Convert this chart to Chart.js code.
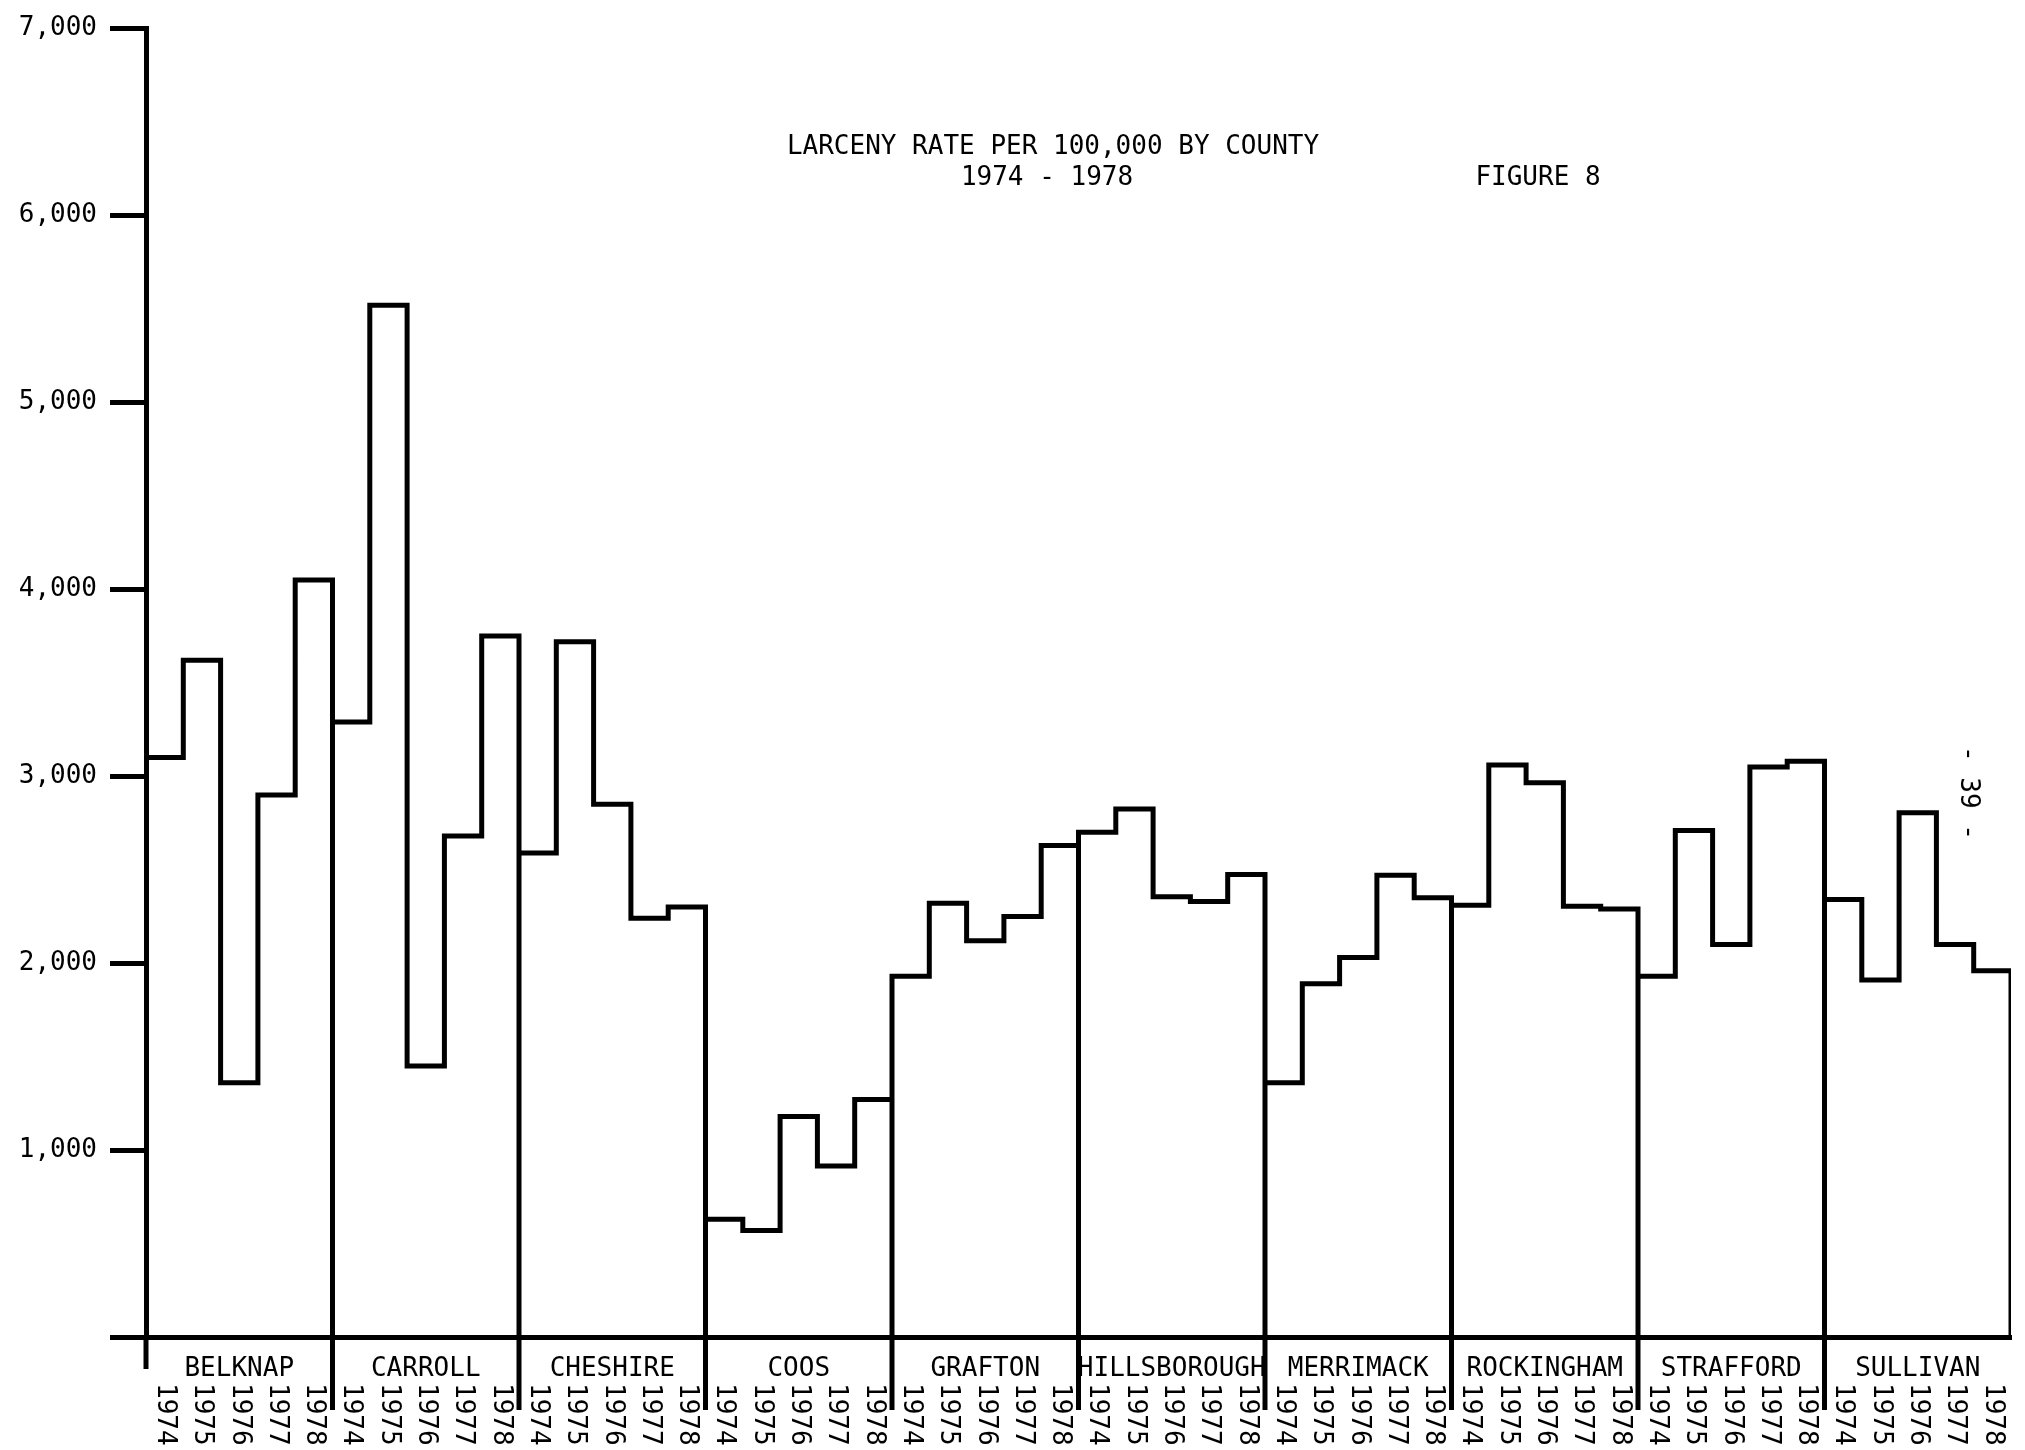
<!DOCTYPE html>
<html>
<head>
<meta charset="utf-8">
<script src="https://cdn.jsdelivr.net/npm/chart.js@4.4.1/dist/chart.umd.min.js"></script>
<style>
  body { margin: 0; background: #fff; }
  #wrap { position: relative; width: 2025px; height: 1450px; }
  .txt { position: absolute; font-family: 'DejaVu Sans Mono', monospace; font-size: 26px; line-height: 26px; color: #000; white-space: pre; }
</style>
</head>
<body>
<div id="wrap">
  <canvas id="chart" width="2025" height="1450"></canvas>
  <div class="txt" style="left:1053px; top:132px; transform:translateX(-50%);">LARCENY RATE PER 100,000 BY COUNTY</div>
  <div class="txt" style="left:1047px; top:163px; transform:translateX(-50%);">1974 - 1978</div>
  <div class="txt" style="left:1538px; top:163px; transform:translateX(-50%);">FIGURE 8</div>
  <div class="txt" style="left:1970px; top:793px; transform:translate(-50%,-50%) rotate(90deg);">- 39 -</div>
</div>
<script>
// larceny rate per 100,000, years 1974..1978 for each county
const counties = ['BELKNAP', 'CARROLL', 'CHESHIRE', 'COOS', 'GRAFTON', 'HILLSBOROUGH', 'MERRIMACK', 'ROCKINGHAM', 'STRAFFORD', 'SULLIVAN'];
const years = ['1974', '1975', '1976', '1977', '1978'];

const belknap      = [3100, 3620, 1360, 2900, 4050];
const carroll      = [3290, 5520, 1450, 2680, 3750];
const cheshire     = [2590, 3720, 2850, 2240, 2300];
const coos         = [630, 570, 1180, 915, 1270];
const grafton      = [1930, 2320, 2120, 2250, 2630];
const hillsborough = [2700, 2825, 2355, 2330, 2475];
const merrimack    = [1360, 1890, 2030, 2470, 2350];
const rockingham   = [2310, 3060, 2965, 2305, 2290];
const strafford    = [1930, 2710, 2100, 3050, 3080];
const sullivan     = [2340, 1910, 2805, 2100, 1960];

const yTicks = [0, 1000, 2000, 3000, 4000, 5000, 6000, 7000];

const rates = [belknap, carroll, cheshire, coos, grafton, hillsborough, merrimack, rockingham, strafford, sullivan];
const n = years.length;

// step outline: each county starts and ends on the axis.
// stepped 'after' goes up at the previous x, then across to this point,
// so a point at the right edge of a year carries that year's value.
const points = [];
rates.forEach((vals, i) => {
  points.push({ x: n * i, y: 0 });
  vals.forEach((v, j) => points.push({ x: n * i + j + 1, y: v }));
  points.push({ x: n * i + n, y: 0 });
});

const FONT = { family: "'DejaVu Sans Mono', monospace", size: 26 };
const LW = 5;

// year labels under each bar + county separators running below the axis
const belowAxis = {
  id: 'belowAxis',
  afterDraw(chart) {
    const ctx = chart.ctx;
    const xs = chart.scales.x;
    const bottom = chart.chartArea.bottom;
    ctx.save();
    ctx.strokeStyle = '#000';
    ctx.lineWidth = LW;
    for (let i = 0; i < counties.length; i++) {
      const px = xs.getPixelForValue(n * i);
      ctx.beginPath();
      ctx.moveTo(px, bottom);
      ctx.lineTo(px, bottom + (i === 0 ? 32 : 73));
      ctx.stroke();
    }
    ctx.fillStyle = '#000';
    ctx.font = `${FONT.size}px ${FONT.family}`;
    ctx.textAlign = 'left';
    ctx.textBaseline = 'middle';
    counties.forEach((c, i) => {
      years.forEach((yr, j) => {
        const px = xs.getPixelForValue(n * i + j + 0.5);
        ctx.save();
        ctx.translate(px, bottom + 46);
        ctx.rotate(Math.PI / 2);
        ctx.fillText(yr, 0, 0);
        ctx.restore();
      });
    });
    ctx.restore();
  }
};

new Chart(document.getElementById('chart'), {
  type: 'line',
  data: {
    datasets: [{
      data: points,
      stepped: 'after',
      borderColor: '#000',
      borderWidth: LW,
      borderCapStyle: 'square',
      borderJoinStyle: 'miter',
      pointRadius: 0,
      fill: false,
      tension: 0
    }]
  },
  options: {
    responsive: false,
    animation: false,
    devicePixelRatio: 1,
    layout: { padding: { left: 0, right: 14, top: 27, bottom: 0 } },
    plugins: { legend: { display: false }, tooltip: { enabled: false }, title: { display: false } },
    scales: {
      x: {
        type: 'linear',
        min: 0,
        max: n * counties.length,
        position: 'bottom',
        weight: 0,
        ticks: { display: false },
        grid: { display: true, drawOnChartArea: false, drawTicks: false },
        border: { display: true, color: '#000', width: LW },
        afterFit(scale) { scale.height = 0; }
      },
      xc: {
        type: 'category',
        labels: counties,
        position: 'bottom',
        weight: 1,
        offset: true,
        grid: { display: false },
        border: { display: false },
        ticks: { color: '#000', font: FONT, padding: 9, autoSkip: false, maxRotation: 0, minRotation: 0 },
        afterFit(scale) { scale.height = 113; }
      },
      y: {
        min: 0,
        max: 7000,
        afterBuildTicks(scale) { scale.ticks = yTicks.map(v => ({ value: v })); },
        ticks: {
          color: '#000',
          font: FONT,
          padding: 13,
          callback: v => (v === 0 ? '' : v.toLocaleString('en-US'))
        },
        grid: { display: true, drawOnChartArea: false, drawTicks: true, tickLength: 36, lineWidth: LW, color: '#000' },
        border: { display: true, color: '#000', width: LW },
        afterFit(scale) { scale.width = 146; }
      }
    }
  },
  plugins: [belowAxis]
});
</script>
</body>
</html>
